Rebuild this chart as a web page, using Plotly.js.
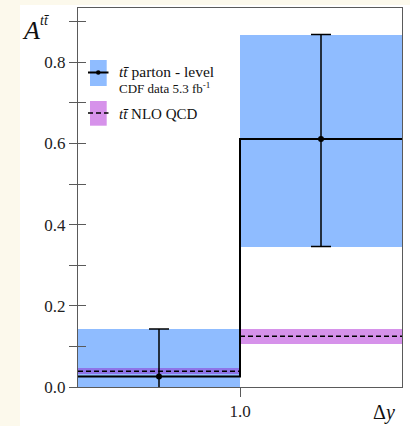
<!DOCTYPE html>
<html>
<head>
<meta charset="utf-8">
<script src="https://cdn.plot.ly/plotly-3.0.1.min.js"></script>
<style>
  html, body { margin: 0; padding: 0; background: #fcf9ec; width: 410px; height: 426px; overflow: hidden; }
  #chart { position: absolute; left: 20px; top: 5px; width: 390px; height: 421px; background: #ffffff; }
</style>
</head>
<body>
<div id="chart"></div>
<script>
// ---- data ----
var binEdges = [0, 1, 2];
var binCenters = [0.5, 1.5];
var dataValues = [0.026, 0.611];
var dataErrPlus = [0.117, 0.257];
var dataErrMinus = [0.117, 0.265];
var nloValues = [0.039, 0.125];
var nloErr = [0.008, 0.018];
var xTickVals = [1.0];
var xTickText = ['1.0'];
var yTickVals = [0, 0.1, 0.2, 0.3, 0.4, 0.5, 0.6, 0.7, 0.8, 0.9];
var yTickText = ['0.0', ' ', '0.2', ' ', '0.4', ' ', '0.6', ' ', '0.8', ' '];

// ---- layout geometry (div coordinates) ----
var W = 390, H = 421;
var M = {l: 58, r: 8, t: 3, b: 39, pad: 0};
var PW = W - M.l - M.r, PH = H - M.t - M.b;
// convert page pixel coordinates to paper coordinates
function px(xPage) { return (xPage - 20 - M.l) / PW; }
function py(yPage) { return 1 - (yPage - 5 - M.t) / PH; }

var blue = '#8fbcff';
var purple = '#d692ea';
var violet = '#8e74e8';
var serif = 'Liberation Serif';

var widths = binCenters.map(function (c, i) { return binEdges[i + 1] - binEdges[i]; });

var traces = [];
// data uncertainty bands
traces.push({
  type: 'bar', x: binCenters, width: widths,
  base: dataValues.map(function (v, i) { return v - dataErrMinus[i]; }),
  y: dataValues.map(function (v, i) { return dataErrPlus[i] + dataErrMinus[i]; }),
  marker: {color: blue, line: {width: 0}}, hoverinfo: 'skip', showlegend: false
});
// NLO uncertainty bands
traces.push({
  type: 'bar', x: binCenters, width: widths,
  base: nloValues.map(function (v, i) { return v - nloErr[i]; }),
  y: nloErr.map(function (e) { return 2 * e; }),
  marker: {color: [violet, purple], line: {width: 0}}, hoverinfo: 'skip', showlegend: false
});
// NLO dashed central values
var nx = [], ny = [];
for (var i = 0; i < nloValues.length; i++) {
  nx.push(binEdges[i], binEdges[i + 1], null);
  ny.push(nloValues[i], nloValues[i], null);
}
traces.push({
  type: 'scatter', mode: 'lines', x: nx, y: ny,
  line: {color: '#000', width: 1.5, dash: '5px,3px'}, hoverinfo: 'skip', showlegend: false
});
// data step histogram
traces.push({
  type: 'scatter', mode: 'lines', x: binEdges,
  y: dataValues.concat([dataValues[dataValues.length - 1]]),
  line: {color: '#000', width: 2, shape: 'hv'}, hoverinfo: 'skip', showlegend: false
});
// data points with error bars
traces.push({
  type: 'scatter', mode: 'markers', x: binCenters, y: dataValues,
  marker: {color: '#000', size: 6},
  error_y: {type: 'data', symmetric: false, array: dataErrPlus, arrayminus: dataErrMinus,
            color: '#000', thickness: 1.5, width: 10},
  hoverinfo: 'skip', showlegend: false, cliponaxis: true
});
// dummy trace on overlay axis to show inside ticks
traces.push({type: 'scatter', mode: 'none', x: [0], y: [0], yaxis: 'y2', hoverinfo: 'skip', showlegend: false});

var yRange = [0, PH / 406];
var axisColor = '#5a5a5a';

var layout = {
  width: W, height: H,
  margin: M,
  paper_bgcolor: '#ffffff', plot_bgcolor: '#ffffff',
  barmode: 'overlay', bargap: 0,
  showlegend: false,
  font: {family: serif, size: 17, color: '#222'},
  xaxis: {
    range: [0, 2], showgrid: false, zeroline: false,
    showline: true, mirror: true, linecolor: axisColor, linewidth: 1,
    ticks: 'outside', ticklen: 9, tickcolor: axisColor, tickwidth: 1,
    tickvals: xTickVals, ticktext: xTickText,
    tickfont: {family: serif, size: 17, color: '#222'}
  },
  yaxis: {
    range: yRange, showgrid: false, zeroline: false,
    showline: true, mirror: true, linecolor: axisColor, linewidth: 1,
    ticks: 'outside', ticklen: 8, tickcolor: axisColor, tickwidth: 1,
    tickvals: yTickVals, ticktext: yTickText,
    tickfont: {family: serif, size: 17, color: '#222'}
  },
  yaxis2: {
    overlaying: 'y', side: 'left', range: yRange, showgrid: false, zeroline: false,
    showline: false, ticks: 'inside', ticklen: 8, tickcolor: axisColor, tickwidth: 1,
    tickvals: yTickVals, showticklabels: false
  },
  shapes: [
    // legend: data
    {type: 'rect', xref: 'paper', yref: 'paper', x0: px(90), x1: px(106.7), y0: py(86), y1: py(60),
     fillcolor: blue, line: {width: 0}},
    {type: 'line', xref: 'paper', yref: 'paper', x0: px(88), x1: px(108.5), y0: py(72.5), y1: py(72.5),
     line: {color: '#000', width: 2}},
    {type: 'circle', xref: 'paper', yref: 'paper', x0: px(96), x1: px(100.5), y0: py(74.7), y1: py(70.3),
     fillcolor: '#000', line: {width: 0}},
    // legend: NLO
    {type: 'rect', xref: 'paper', yref: 'paper', x0: px(90), x1: px(106.7), y0: py(125.7), y1: py(101),
     fillcolor: purple, line: {width: 0}},
    {type: 'line', xref: 'paper', yref: 'paper', x0: px(88), x1: px(108.5), y0: py(113), y1: py(113),
     line: {color: '#000', width: 1.5, dash: '5px,3px'}}
  ],
  annotations: [
    {xref: 'paper', yref: 'paper', x: px(31), y: py(31), xanchor: 'center', yanchor: 'middle',
     text: '<i>A</i>', showarrow: false, font: {family: serif, size: 26, color: '#111'}},
    {xref: 'paper', yref: 'paper', x: px(44.5), y: py(20.5), xanchor: 'center', yanchor: 'middle',
     text: '<i>tt\u0304</i>', showarrow: false, font: {family: serif, size: 14, color: '#111'}},
    {xref: 'paper', yref: 'paper', x: px(117), y: py(71), xanchor: 'left', yanchor: 'middle',
     text: '<i>tt\u0304</i> parton - level', showarrow: false, font: {family: serif, size: 15.5, color: '#111'}},
    {xref: 'paper', yref: 'paper', x: px(117), y: py(88), xanchor: 'left', yanchor: 'middle',
     text: 'CDF data 5.3 fb<sup>-1</sup>', showarrow: false, font: {family: serif, size: 13, color: '#111'}},
    {xref: 'paper', yref: 'paper', x: px(117), y: py(113.5), xanchor: 'left', yanchor: 'middle',
     text: '<i>tt\u0304</i> NLO QCD', showarrow: false, font: {family: serif, size: 15, color: '#111'}},
    {xref: 'paper', yref: 'paper', x: px(384), y: py(412), xanchor: 'center', yanchor: 'middle',
     text: '\u0394<i>y</i>', showarrow: false, font: {family: serif, size: 20, color: '#111'}}
  ]
};

Plotly.newPlot('chart', traces, layout, {staticPlot: true, displayModeBar: false});
</script>
</body>
</html>
